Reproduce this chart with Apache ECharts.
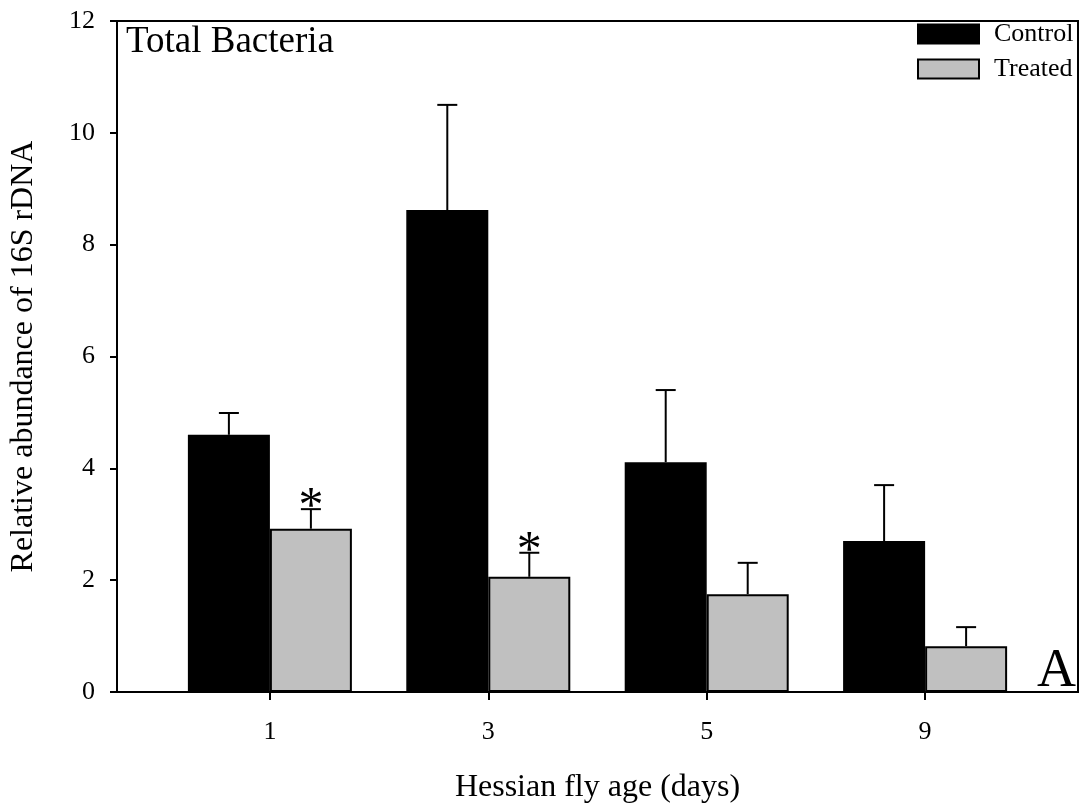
<!DOCTYPE html>
<html>
<head>
<meta charset="utf-8">
<script src="https://cdn.jsdelivr.net/npm/echarts@6/dist/echarts.min.js"></script>
<style>
  html, body { margin: 0; padding: 0; background: #fff; }
  #chart { width: 1084px; height: 810px; }
</style>
</head>
<body>
<div id="chart"></div>
<script>
// Hessian fly age groups (days)
const ages = ['1', '3', '5', '9'];
// Mean relative abundance of 16S rDNA
const controlMean = [4.60, 8.62, 4.11, 2.70];
const treatedMean = [2.92, 2.06, 1.75, 0.82];
// Upper error (standard error)
const controlErr = [0.39, 1.88, 1.29, 1.00];
const treatedErr = [0.35, 0.43, 0.56, 0.34];
// Significance markers on treated bars
const treatedSig = ['*', '*', '', ''];
// Y-axis ticks
const yTicks = [0, 2, 4, 6, 8, 10, 12];

const FONT = 'Liberation Serif';
const BAR_W = 82;

// Positions 1..n along the x value axis, one per age group
const pos = ages.map((_, i) => i + 1);

function errorSeries(name, means, errs, side, marks) {
  return {
    type: 'custom',
    name: name + ' error',
    z: 5,
    silent: true,
    data: means.map((m, i) => [pos[i], m, m + errs[i], marks ? marks[i] : '']),
    renderItem: function (params, api) {
      const base = api.coord([api.value(0), api.value(1)]);
      const top = api.coord([api.value(0), api.value(2)]);
      const x = base[0] + side * BAR_W / 2;
      const cap = 10;
      const children = [
        { type: 'line', shape: { x1: x, y1: base[1], x2: x, y2: top[1] },
          style: { stroke: '#000', lineWidth: 2 } },
        { type: 'line', shape: { x1: x - cap, y1: top[1], x2: x + cap, y2: top[1] },
          style: { stroke: '#000', lineWidth: 2 } }
      ];
      const mark = api.value(3);
      if (mark) {
        children.push({
          type: 'text',
          style: {
            text: mark, x: x, y: top[1] + 24,
            align: 'center', verticalAlign: 'bottom',
            fontFamily: FONT, fontSize: 50, fill: '#000'
          }
        });
      }
      return { type: 'group', children: children };
    }
  };
}

const chart = echarts.init(document.getElementById('chart'), null, { renderer: 'canvas' });

chart.setOption({
  animation: false,
  backgroundColor: '#fff',
  textStyle: { fontFamily: FONT, color: '#000' },
  title: [
    { text: 'Total Bacteria', left: 121, top: 19,
      textStyle: { fontFamily: FONT, fontSize: 37, fontWeight: 'normal', color: '#000' } },
    { text: 'A', right: 3, bottom: 106,
      textStyle: { fontFamily: FONT, fontSize: 54, fontWeight: 'normal', color: '#000' } }
  ],
  legend: {
    orient: 'vertical',
    left: 917,
    top: 21,
    padding: 0,
    itemWidth: 61,
    itemHeight: 19,
    itemGap: 9,
    icon: 'rect',
    data: ['Control', 'Treated'],
    textStyle: { fontFamily: FONT, fontSize: 26, color: '#000', padding: [0, 0, 0, 10] }
  },
  grid: {
    left: 117, top: 21, right: 6, bottom: 118,
    show: true, borderColor: '#000', borderWidth: 2, backgroundColor: 'transparent'
  },
  xAxis: {
    type: 'value',
    min: 0.3,
    max: pos.length + 0.7,
    name: 'Hessian fly age (days)',
    nameLocation: 'middle',
    nameGap: 80,
    nameTextStyle: { fontFamily: FONT, fontSize: 32, color: '#000' },
    axisLine: { show: true, lineStyle: { color: '#000', width: 2 } },
    axisTick: { show: true, inside: false, length: 8, lineStyle: { color: '#000', width: 2 },
                customValues: pos },
    axisLabel: { customValues: pos, margin: 27, fontFamily: FONT, fontSize: 26, color: '#000',
                 formatter: v => ages[Math.round(v) - 1] },
    splitLine: { show: false }
  },
  yAxis: {
    type: 'value',
    min: 0,
    max: 12,
    interval: 2,
    name: 'Relative abundance of 16S rDNA',
    nameLocation: 'middle',
    nameGap: 77,
    nameTextStyle: { fontFamily: FONT, fontSize: 32, color: '#000' },
    axisLine: { show: true, lineStyle: { color: '#000', width: 2 } },
    axisTick: { show: true, inside: false, length: 7, lineStyle: { color: '#000', width: 2 } },
    axisLabel: { margin: 22, fontFamily: FONT, fontSize: 26, color: '#000',
                 formatter: v => (yTicks.indexOf(v) >= 0 ? String(v) : '') },
    splitLine: { show: false }
  },
  series: [
    {
      name: 'Control',
      type: 'bar',
      barWidth: BAR_W,
      barGap: '0%',
      itemStyle: { color: '#000', borderColor: '#000', borderWidth: 1.5 },
      data: controlMean.map((v, i) => [pos[i], v])
    },
    {
      name: 'Treated',
      type: 'bar',
      barWidth: BAR_W,
      barGap: '0%',
      itemStyle: { color: '#c0c0c0', borderColor: '#000', borderWidth: 2 },
      data: treatedMean.map((v, i) => [pos[i], v])
    },
    errorSeries('Control', controlMean, controlErr, -1, null),
    errorSeries('Treated', treatedMean, treatedErr, 1, treatedSig)
  ]
});
</script>
</body>
</html>
